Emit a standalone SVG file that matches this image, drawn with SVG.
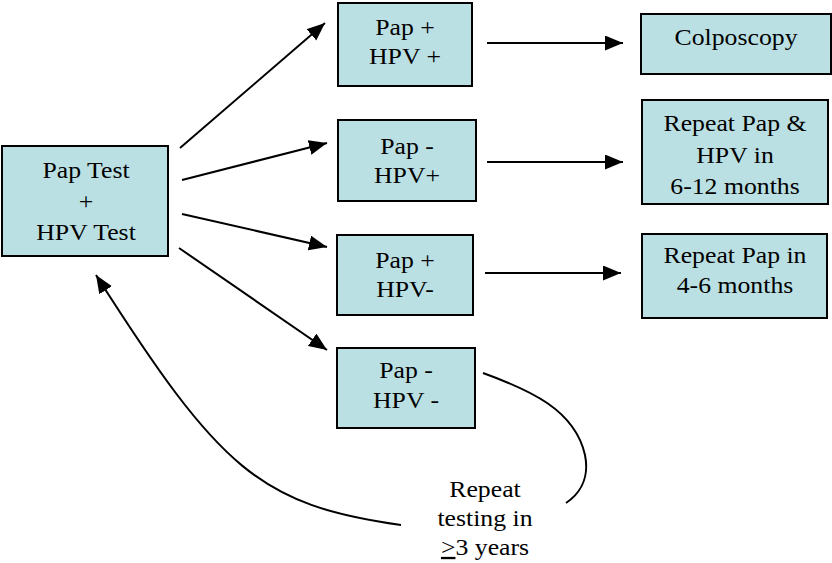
<svg xmlns="http://www.w3.org/2000/svg" width="832" height="563" viewBox="0 0 832 563">
<defs>
<style>
.box{fill:#BBE0E3;stroke:#000;stroke-width:2}
.t{font-family:"Liberation Serif","Times New Roman",serif;font-size:23px;fill:#000;text-anchor:middle}
.c{fill:none;stroke:#000;stroke-width:2}
</style>
<marker id="ah" markerUnits="userSpaceOnUse" markerWidth="20" markerHeight="16" refX="18" refY="7.5" orient="auto">
<path d="M0,0 L18,7.5 L0,15 z" fill="#000"/>
</marker>
</defs>
<rect width="832" height="563" fill="#fff"/>
<g id="connectors">
<line class="c" x1="180" y1="148" x2="325" y2="23" marker-end="url(#ah)"/>
<line class="c" x1="182" y1="180" x2="327" y2="143" marker-end="url(#ah)"/>
<line class="c" x1="182" y1="214" x2="327" y2="247" marker-end="url(#ah)"/>
<line class="c" x1="179" y1="248" x2="327" y2="350" marker-end="url(#ah)"/>
<line class="c" x1="487" y1="43" x2="623" y2="43" marker-end="url(#ah)"/>
<line class="c" x1="487" y1="162" x2="623" y2="162" marker-end="url(#ah)"/>
<line class="c" x1="485" y1="273" x2="621" y2="273" marker-end="url(#ah)"/>
<path class="c" d="M483,373 C530,390 575,410 585,455 C590,480 578,495 566,503"/>
<path class="c" d="M401,525 C260,505 220,470 96,275" marker-end="url(#ah)"/>
</g>
<g id="pap-hpv-test">
<rect class="box" x="2" y="146" width="166" height="110"/>
<g transform="translate(86,0) scale(1.12,1)">
<text class="t" x="0" y="178">Pap Test</text>
<text class="t" x="0" y="209">+</text>
<text class="t" x="0" y="240">HPV Test</text>
</g>
</g>
<g id="pap-pos-hpv-pos">
<rect class="box" x="338" y="3" width="134" height="83"/>
<g transform="translate(405,0) scale(1.12,1)">
<text class="t" x="0" y="35">Pap +</text>
<text class="t" x="0" y="64">HPV +</text>
</g>
</g>
<g id="pap-neg-hpv-pos">
<rect class="box" x="338" y="120" width="138" height="81"/>
<g transform="translate(407,0) scale(1.12,1)">
<text class="t" x="0" y="154">Pap -</text>
<text class="t" x="0" y="183">HPV+</text>
</g>
</g>
<g id="pap-pos-hpv-neg">
<rect class="box" x="337" y="235" width="136" height="80"/>
<g transform="translate(405,0) scale(1.12,1)">
<text class="t" x="0" y="268">Pap +</text>
<text class="t" x="0" y="297">HPV-</text>
</g>
</g>
<g id="pap-neg-hpv-neg">
<rect class="box" x="337" y="348" width="138" height="80"/>
<g transform="translate(406,0) scale(1.12,1)">
<text class="t" x="0" y="378">Pap -</text>
<text class="t" x="0" y="408">HPV -</text>
</g>
</g>
<g id="colposcopy">
<rect class="box" x="641" y="14" width="190" height="60"/>
<g transform="translate(736,0) scale(1.12,1)">
<text class="t" x="0" y="45">Colposcopy</text>
</g>
</g>
<g id="repeat-pap-hpv">
<rect class="box" x="642" y="100" width="186" height="104"/>
<g transform="translate(735,0) scale(1.12,1)">
<text class="t" x="0" y="131">Repeat Pap &amp;</text>
<text class="t" x="0" y="163">HPV in</text>
<text class="t" x="0" y="194">6-12 months</text>
</g>
</g>
<g id="repeat-pap">
<rect class="box" x="642" y="234" width="185" height="84"/>
<g transform="translate(735,0) scale(1.12,1)">
<text class="t" x="0" y="263">Repeat Pap in</text>
<text class="t" x="0" y="293">4-6 months</text>
</g>
</g>
<g id="repeat-testing">
<g transform="translate(485,0) scale(1.12,1)">
<text class="t" x="0" y="497">Repeat</text>
<text class="t" x="0" y="526">testing in</text>
<text class="t" x="0" y="555"><tspan text-decoration="underline">&gt;</tspan>3 years</text>
</g>
</g>
</svg>
